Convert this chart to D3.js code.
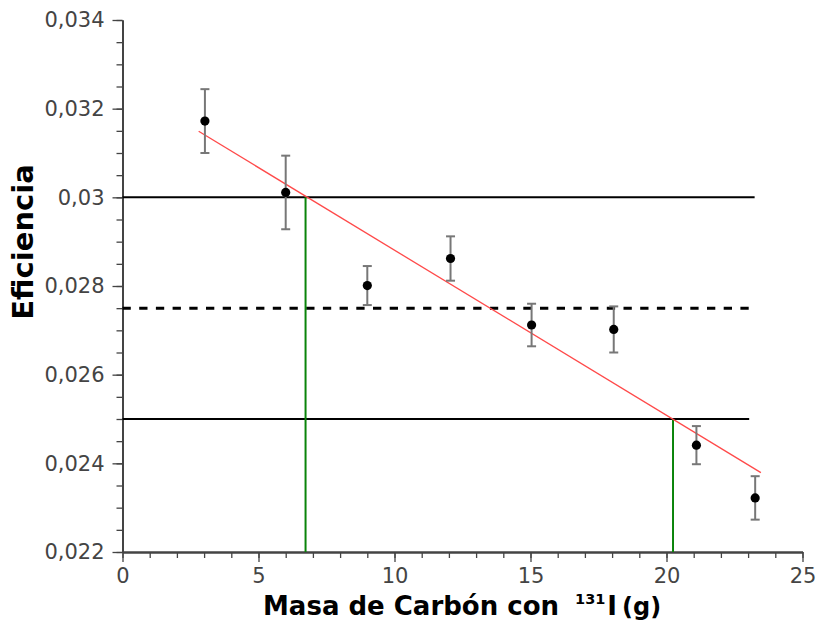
<!DOCTYPE html>
<html><head><meta charset="utf-8">
<script src="https://cdn.jsdelivr.net/npm/d3@7"></script>
<style>body{margin:0;background:#fff}svg{display:block}</style>
</head><body>
<svg id="c" width="818" height="623"></svg>
<script>
// ---- data ----
const massX = [3.03, 6.0, 9.0, 12.06, 15.04, 18.06, 21.1, 23.26];
const eff   = [0.03172, 0.03011, 0.02801, 0.02862, 0.02712, 0.02702, 0.02441, 0.02322];
const effErr = [0.00072, 0.00083, 0.00044, 0.00050, 0.00048, 0.00052, 0.00043, 0.00049];
const fitX = [2.8, 23.47];
const fitY = [0.03149, 0.02379];
const refY = [0.030, 0.0275, 0.025];
const refXEnd = [23.24, 23.2, 23.04];
const dropX = [6.73, 20.24];
const dropY = [0.030, 0.025];
const xTicks = [0, 5, 10, 15, 20, 25];
const xTickLabels = ["0", "5", "10", "15", "20", "25"];
const yTicks = [0.022, 0.024, 0.026, 0.028, 0.030, 0.032, 0.034];
const yTickLabels = ["0,022", "0,024", "0,026", "0,028", "0,03", "0,032", "0,034"];
const xMinor = d3.range(0, 26, 1);
const yMinor = d3.range(0, 25).map(i => 0.022 + i * 0.0005);

const svg = d3.select("#c");
const x = d3.scaleLinear().domain([0, 25]).range([122.5, 802.5]);
const y = d3.scaleLinear().domain([0.022, 0.034]).range([552, 20]);
const font = "'DejaVu Sans', sans-serif";
const axisCol = "#444";

// minor ticks
const gxm = svg.append("g").attr("transform", `translate(0,${y(0.022)})`)
  .call(d3.axisBottom(x).tickValues(xMinor).tickSize(6).tickFormat("").tickSizeOuter(0));
const gym = svg.append("g").attr("transform", `translate(${x(0)},0)`)
  .call(d3.axisLeft(y).tickValues(yMinor).tickSize(6).tickFormat("").tickSizeOuter(0));
// major ticks
const gx = svg.append("g").attr("transform", `translate(0,${y(0.022)})`)
  .call(d3.axisBottom(x).tickValues(xTicks).tickSize(10).tickPadding(6)
    .tickFormat((d, i) => xTickLabels[i]).tickSizeOuter(0));
const gy = svg.append("g").attr("transform", `translate(${x(0)},0)`)
  .call(d3.axisLeft(y).tickValues(yTicks).tickSize(10).tickPadding(8)
    .tickFormat((d, i) => yTickLabels[i]).tickSizeOuter(0));
[gxm, gym, gx, gy].forEach(g => {
  g.selectAll("line").attr("stroke", axisCol).attr("stroke-width", 1.3);
  g.select(".domain").attr("stroke", axisCol).attr("stroke-width", 2);
  g.selectAll("text").attr("fill", "#444").style("font-family", font).style("font-size", "21px");
});

// reference horizontal lines
svg.append("g").selectAll("line").data(refY).join("line")
  .attr("x1", x(0)).attr("x2", (d, i) => x(refXEnd[i]))
  .attr("y1", d => y(d)).attr("y2", d => y(d))
  .attr("stroke", "#000")
  .attr("stroke-width", (d, i) => i === 1 ? 3 : 2)
  .attr("stroke-dasharray", (d, i) => i === 1 ? "8.3,8.4" : null);

// green drop lines
svg.append("g").selectAll("line").data(dropX).join("line")
  .attr("x1", d => x(d)).attr("x2", d => x(d))
  .attr("y1", (d, i) => y(dropY[i])).attr("y2", y(0.022))
  .attr("stroke", "#0a840a").attr("stroke-width", 2);

// fit line
svg.append("path")
  .datum(fitX.map((d, i) => [d, fitY[i]]))
  .attr("d", d3.line().x(d => x(d[0])).y(d => y(d[1])))
  .attr("stroke", "#ff4a4a").attr("stroke-width", 1.3).attr("fill", "none");

// error bars
const pts = massX.map((d, i) => ({x: d, y: eff[i], e: effErr[i]}));
const eb = svg.append("g").attr("stroke", "#777").attr("stroke-width", 2);
eb.selectAll(".v").data(pts).join("line")
  .attr("x1", d => x(d.x)).attr("x2", d => x(d.x))
  .attr("y1", d => y(d.y + d.e)).attr("y2", d => y(d.y - d.e));
eb.selectAll(".t").data(pts).join("line")
  .attr("x1", d => x(d.x) - 4.5).attr("x2", d => x(d.x) + 4.5)
  .attr("y1", d => y(d.y + d.e)).attr("y2", d => y(d.y + d.e));
eb.selectAll(".b").data(pts).join("line")
  .attr("x1", d => x(d.x) - 4.5).attr("x2", d => x(d.x) + 4.5)
  .attr("y1", d => y(d.y - d.e)).attr("y2", d => y(d.y - d.e));

// points
svg.append("g").selectAll("circle").data(pts).join("circle")
  .attr("cx", d => x(d.x)).attr("cy", d => y(d.y)).attr("r", 4.6).attr("fill", "#000");

// axis titles
const xt = svg.append("text").attr("x", 263).attr("y", 615)
  .style("font-family", font).style("font-weight", "bold").style("font-size", "26px").attr("fill", "#000");
xt.append("tspan").text("Masa de Carbón con");
xt.append("tspan").attr("dx", 16).attr("dy", -11.5).style("font-size", "14.5px").text("131");
xt.append("tspan").attr("dx", 2).attr("dy", 11.5).text("I");
xt.append("tspan").attr("dx", 5).style("font-size", "24px").text("(g)");

svg.append("text").attr("transform", "translate(33,242) rotate(-90)")
  .attr("text-anchor", "middle")
  .style("font-family", font).style("font-weight", "bold").style("font-size", "29px").attr("fill", "#000")
  .text("Eficiencia");
</script>
</body></html>
